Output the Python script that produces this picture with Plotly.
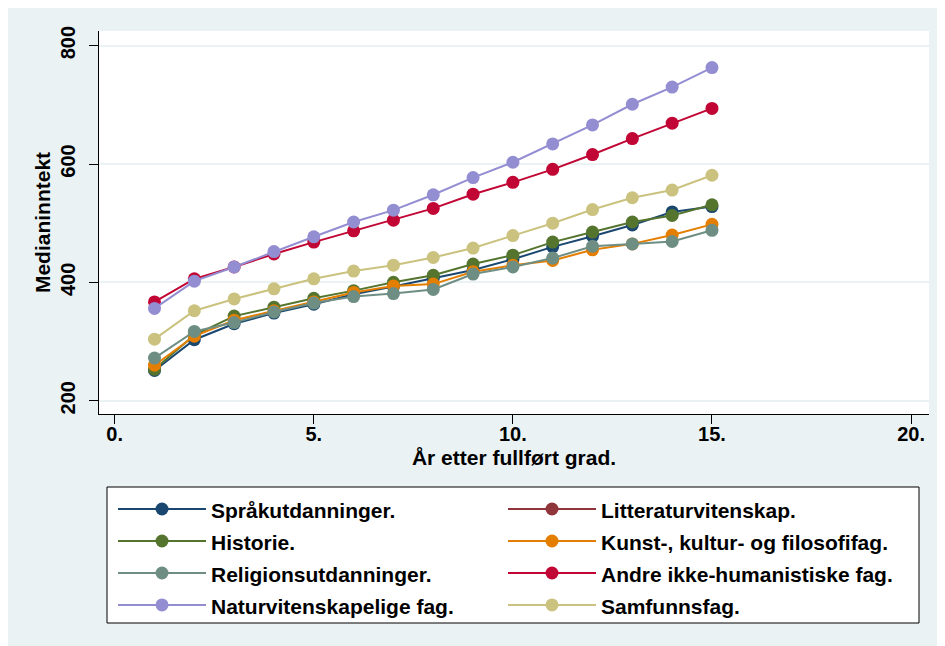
import plotly.graph_objects as go

years = list(range(1, 16))

series_names = [
    "Språkutdanninger.",
    "Litteraturvitenskap.",
    "Historie.",
    "Kunst-, kultur- og filosofifag.",
    "Religionsutdanninger.",
    "Andre ikke-humanistiske fag.",
    "Naturvitenskapelige fag.",
    "Samfunnsfag.",
]

sprak = [251, 303, 330, 348, 363, 380, 393, 407, 421, 439, 460, 478, 497, 519, 528]
# no visible values for this series in the chart (missing data)
litteratur = [None, None, None, None, None, None, None, None, None, None, None, None, None, None, None]
historie = [253, 311, 343, 358, 373, 386, 400, 412, 431, 446, 468, 485, 502, 513, 531]
kunst = [260, 309, 336, 352, 367, 383, 394, 397, 418, 429, 437, 455, 465, 480, 498]
religion = [272, 317, 332, 350, 365, 376, 381, 388, 414, 426, 441, 461, 465, 469, 488]
andre = [367, 406, 426, 448, 468, 487, 505, 525, 549, 569, 591, 616, 643, 669, 694]
naturvit = [356, 402, 426, 452, 477, 502, 522, 548, 577, 603, 634, 666, 701, 730, 763]
samfunn = [304, 352, 372, 389, 406, 419, 429, 442, 458, 479, 500, 523, 543, 556, 581]

values = [sprak, litteratur, historie, kunst, religion, andre, naturvit, samfunn]
colors = ["#1A476F", "#90353B", "#55752F", "#E37E00", "#6E8E84", "#C10534", "#938DD2", "#CAC27E"]

x_ticks = [0, 5, 10, 15, 20]
x_ticklabels = ["0.", "5.", "10.", "15.", "20."]
y_ticks = [200, 400, 600, 800]

FONT = "Liberation Sans, Arial, sans-serif"
BG = "#EAF2F3"

fig = go.Figure()
for name, vals, col in zip(series_names, values, colors):
    fig.add_trace(go.Scatter(
        x=years, y=vals, mode="lines+markers",
        name="<span style='font-size:21px'>" + name + "</span>",
        line=dict(color=col, width=2),
        marker=dict(color=col, size=13),
    ))

# page is offset by the default 8px body margin
OFF = 8
W, H = 937, 638
L, R, T, B = 99 - OFF, 16, 31 - OFF, 232
pw, ph = W - L - R, H - T - B


def px_x(p):
    """page x pixel -> paper fraction"""
    return (p - OFF - L) / pw


def px_y(p):
    """page y pixel -> paper fraction"""
    return (H - B - (p - OFF)) / ph


fig.update_layout(
    width=W, height=H,
    margin=dict(l=L, r=R, t=T, b=B),
    paper_bgcolor=BG,
    plot_bgcolor="white",
    font=dict(family=FONT, color="black", size=20, weight="bold"),
    showlegend=True,
    legend=dict(
        orientation="h",
        x=px_x(113), y=px_y(488), xanchor="left", yanchor="top",
        bgcolor="rgba(0,0,0,0)", borderwidth=0,
        font=dict(family=FONT, size=22.3, color="black", weight="bold"),
        itemwidth=88, entrywidth=287, entrywidthmode="pixels",
        traceorder="normal",
    ),
    shapes=[
        dict(type="rect", xref="paper", yref="paper",
             x0=px_x(107), x1=px_x(919), y0=px_y(623), y1=px_y(487),
             fillcolor="white", line=dict(color="black", width=1), layer="below"),
    ],
)

fig.update_xaxes(
    range=[-0.394, 20.45],
    tickvals=x_ticks, ticktext=x_ticklabels,
    ticks="outside", ticklen=9, tickcolor="black", tickwidth=1,
    ticklabelstandoff=-7,
    showline=True, linecolor="black", linewidth=1,
    showgrid=False, zeroline=False,
    tickfont=dict(size=20, weight="bold"),
    title=dict(text="År etter fullført grad.", font=dict(size=21, weight="bold"), standoff=6),
)
fig.update_yaxes(
    range=[177.5, 824.8],
    tickvals=y_ticks,
    ticks="outside", ticklen=9, tickcolor="black", tickwidth=1,
    tickangle=-90,
    ticklabelstandoff=6,
    showline=True, linecolor="black", linewidth=1,
    showgrid=True, gridcolor=BG, gridwidth=2,
    zeroline=False,
    tickfont=dict(size=20, weight="bold"),
    title=dict(text="Medianinntekt", font=dict(size=21, weight="bold"), standoff=0),
)

fig.write_html("out.html")
